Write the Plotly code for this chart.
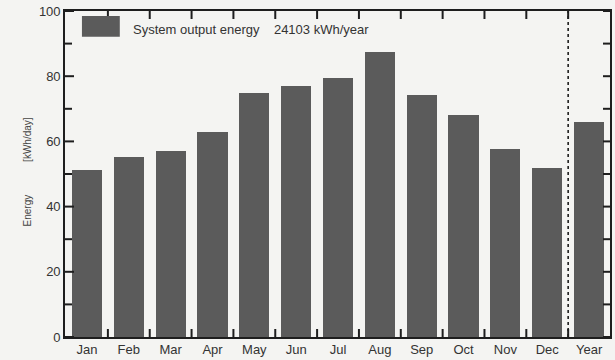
import plotly.graph_objects as go

# Monthly average daily system output, plus yearly average
months = ["Jan", "Feb", "Mar", "Apr", "May", "Jun", "Jul", "Aug", "Sep", "Oct", "Nov", "Dec", "Year"]
energy_kwh_day = [51.2, 55.2, 57.0, 62.8, 74.7, 77.1, 79.3, 87.5, 74.1, 68.0, 57.6, 51.8, 66.0]
annual_total = "24103 kWh/year"
y_ticks = [0, 20, 40, 60, 80, 100]
y_minor = [10, 30, 50, 70, 90]

pos = list(range(len(months)))
sep = [p + 0.5 for p in pos[:-1]]
x_range = [-0.525, 12.5]

W, H = 615, 360
ML, MR, MT, MB = 65, 3, 11, 21
pw, ph = W - ML - MR, H - MT - MB

def px_x(v):
    return (v - ML) / pw

def px_y(v):
    return (H - MB - v) / ph

bar_color = "#5b5b5b"
ink = "#1e1e1e"
bg = "#f4f4f2"
font = "Liberation Sans, Arial, sans-serif"

fig = go.Figure()
fig.add_trace(go.Bar(
    x=pos, y=energy_kwh_day, width=0.72,
    marker=dict(color=bar_color, line=dict(width=0)),
    showlegend=False, hoverinfo="x+y",
))

fig.update_layout(
    width=W, height=H,
    margin=dict(l=ML, r=MR, t=MT, b=MB),
    paper_bgcolor=bg, plot_bgcolor=bg,
    font=dict(family=font, color="#333333"),
    bargap=0,
    xaxis=dict(
        range=x_range, tickvals=pos, ticktext=months, ticks="",
        showline=True, linecolor=ink, linewidth=1.6, mirror=True,
        showgrid=False, zeroline=False, tickfont=dict(size=13, color="#333"),
    ),
    yaxis=dict(
        range=[0, 100], tickvals=y_ticks, ticks="",
        showline=True, linecolor=ink, linewidth=1.6, mirror=True,
        showgrid=False, zeroline=False, tickfont=dict(size=13, color="#333"),
    ),
)

tick_line = dict(color=ink, width=2)

# inward tick marks between categories, bottom and top edges
for s in sep:
    fig.add_shape(type="line", xref="x", yref="paper", ysizemode="pixel",
                  yanchor=0, x0=s, x1=s, y0=0, y1=8, line=tick_line)
    fig.add_shape(type="line", xref="x", yref="paper", ysizemode="pixel",
                  yanchor=1, x0=s, x1=s, y0=0, y1=-8, line=tick_line)

# inward tick marks on the value axis: long majors and short minors on the left,
# uniform ticks on the right
for v in y_ticks:
    fig.add_shape(type="line", xref="paper", yref="y", xsizemode="pixel",
                  xanchor=0, x0=0, x1=9, y0=v, y1=v, line=tick_line)
for v in y_minor:
    fig.add_shape(type="line", xref="paper", yref="y", xsizemode="pixel",
                  xanchor=0, x0=0, x1=7, y0=v, y1=v, line=tick_line)
for v in sorted(y_ticks + y_minor):
    fig.add_shape(type="line", xref="paper", yref="y", xsizemode="pixel",
                  xanchor=1, x0=0, x1=-7, y0=v, y1=v, line=tick_line)

# separator between monthly bars and the yearly bar
fig.add_shape(type="line", xref="x", yref="paper", x0=11.5, x1=11.5, y0=0, y1=1,
              line=dict(color=ink, width=1.6, dash="dot"))

# legend box and label
fig.add_shape(type="rect", xref="paper", yref="paper",
              x0=px_x(82), x1=px_x(120), y0=px_y(37), y1=px_y(16),
              fillcolor=bar_color, line=dict(width=0))
fig.add_annotation(xref="paper", yref="paper", x=px_x(131), y=px_y(30),
                   xanchor="left", yanchor="middle", showarrow=False,
                   text="System output energy\u00a0\u00a0\u00a0\u00a0" + annual_total,
                   font=dict(size=13, color="#333"))

# y-axis title pieces
fig.add_annotation(xref="paper", yref="paper", x=px_x(20), y=px_y(212),
                   textangle=-90, showarrow=False, text="Energy",
                   font=dict(size=10, color="#444"))
fig.add_annotation(xref="paper", yref="paper", x=px_x(20), y=px_y(140),
                   textangle=-90, showarrow=False, text="[kWh/day]",
                   font=dict(size=10, color="#444"))

fig.write_html("out.html")
